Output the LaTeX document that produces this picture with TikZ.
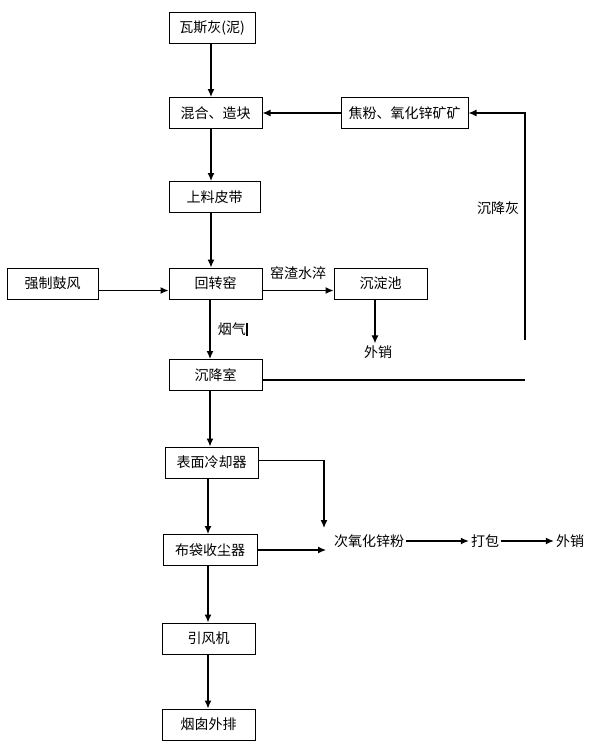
\documentclass[tikz,border=0pt]{standalone}
\usepackage{fontspec}
\setmainfont{Noto Sans CJK SC}
\usetikzlibrary{arrows.meta,positioning,calc}

\begin{document}
\begin{tikzpicture}[
      x=1pt,y=-1pt,
      font=\fontsize{14}{16}\selectfont,
      box/.style={draw,line width=1pt,minimum width=93pt,minimum height=31pt,inner sep=2pt,align=center},
      lbl/.style={inner sep=2pt},
      arrow/.style={-{Latex[length=8pt,width=7pt]},line width=1.2pt},
      line/.style={line width=1.2pt}
    ]
      \useasboundingbox (0,0) rectangle (591,748);

      \node[box,minimum width=86pt] (ash) at (212,28) {瓦斯灰(泥)};
      \node[box] (mix) at (215.5,113) {混合、造块};
      \node[box,minimum width=127pt] (coke) at (404.5,113) {焦粉、氧化锌矿矿};
      \node[box,minimum width=91pt] (belt) at (214.5,197) {上料皮带};
      \node[box,minimum width=91pt] (blow) at (52.5,283.5) {强制鼓风};
      \node[box] (kiln) at (215.5,283.5) {回转窑};
      \node[box] (tank) at (380.5,283.5) {沉淀池};
      \node[lbl] (sale1) at (378,352) {外销};
      \node[box] (settle) at (215.5,375) {沉降室};
      \node[box] (cooler) at (211.5,462.5) {表面冷却器};
      \node[box,minimum width=94pt] (bag) at (210,550) {布袋收尘器};
      \node[lbl] (zno) at (369,541) {次氧化锌粉};
      \node[lbl] (pack) at (485,541) {打包};
      \node[lbl] (sale2) at (570,541) {外销};
      \node[box] (fan) at (208.5,638.5) {引风机};
      \node[box] (stack) at (208.5,724.5) {烟囱外排};

      \coordinate (ashend) at (525,380);
      \coordinate (ashtop) at (525,340);
      \coordinate (cooldrop) at (324,528);

      % main line
      \draw[arrow] (ash.south -| 211,0) -- (mix.north -| 211,0);
      \draw[arrow] (mix.south -| 211,0) -- (belt.north -| 211,0);
      \draw[arrow] (belt.south -| 211,0) -- (kiln.north -| 211,0);
      \draw[arrow] ([yshift=-7pt]blow.east) -- ([yshift=-7pt]kiln.west);
      \draw[arrow] ([yshift=-7pt]kiln.east) -- node[above=7pt] {窑渣水淬} ([yshift=-7pt]tank.west);
      \draw[arrow] (tank.south -| 375,0) -- (sale1.north -| 375,0);
      \draw[arrow] (kiln.south -| 210,0) -- node[right=4pt] (gas) {烟气\rule[-1pt]{2pt}{13pt}} (settle.north -| 210,0);
      \draw[arrow] (settle.south -| 210,0) -- (cooler.north -| 210,0);
      \draw[arrow] (cooler.south -| 208,0) -- (bag.north -| 208,0);
      \draw[arrow] (bag.south -| 208,0) -- (fan.north -| 208,0);
      \draw[arrow] (fan.south -| 208,0) -- (stack.north -| 208,0);

      % recycled dust
      \draw[line] (settle.east |- ashend) -- (ashend);
      \draw[arrow] (ashtop) |- node[pos=0.29,left=2pt] {沉降灰} (coke.east);
      \draw[arrow] (coke.west) -- (mix.east);

      % zinc oxide
      \draw[arrow] ([yshift=2pt]cooler.east) -| (cooldrop);
      \draw[arrow] (bag.east) -- (bag.east -| 326,0);
      \draw[arrow] (zno) -- (pack);
      \draw[arrow] (pack) -- (sale2);
    \end{tikzpicture}
\end{document}
